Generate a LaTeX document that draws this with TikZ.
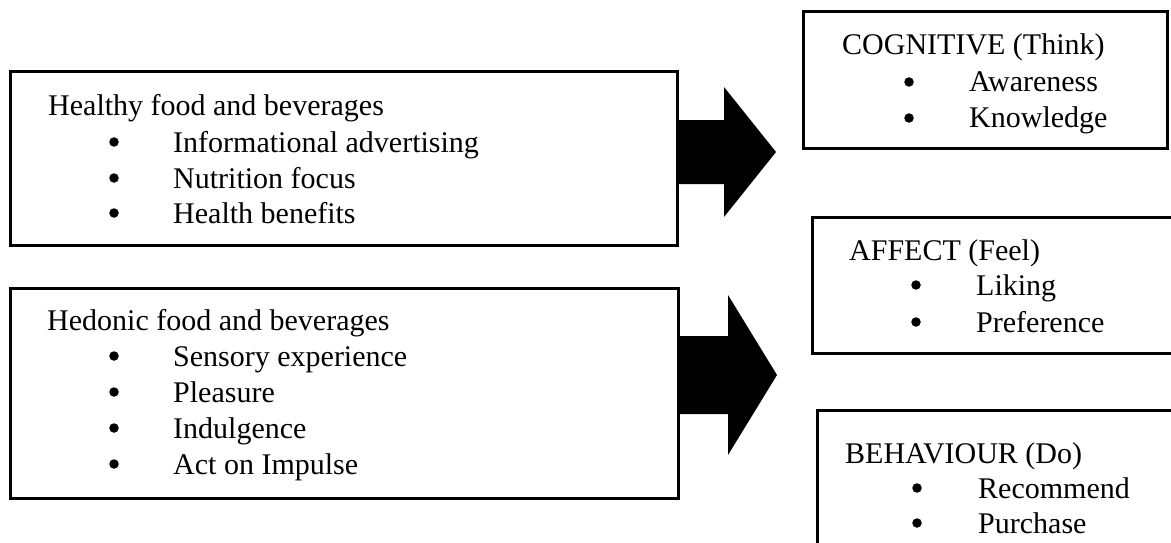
\documentclass[tikz,border=0pt]{standalone}
\usepackage{fontspec}
\setmainfont{Liberation Serif}
\begin{document}
\begin{tikzpicture}[x=1pt,y=-1pt]
\tikzset{
  box/.style={draw=black, line width=3pt, inner sep=0pt, outer sep=0pt},
  lbl/.style={anchor=base west, inner sep=0pt, font=\fontsize{30}{36}\selectfont},
  dot/.style={circle, fill=black, inner sep=0pt, minimum size=9.5pt, yshift=10pt},
  blockarrow/.style={fill=black, draw=none}
}
\useasboundingbox (0,0) rectangle (1171,543);
\clip (0,0) rectangle (1171,543);

% frames
\node[box, minimum width=667pt, minimum height=173pt] (healthy) at (343.5,158.5) {};
\node[box, minimum width=668pt, minimum height=210pt] (hedonic) at (344,393) {};
\node[box, minimum width=364pt, minimum height=136pt] (cognitive) at (985,80) {};
\node[box, minimum width=368pt, minimum height=136pt] (affect) at (996,285) {};
\node[box, minimum width=363pt, minimum height=150pt] (behaviour) at (998.5,485) {};

% block arrows
\fill[blockarrow] (healthy.east |- 0,120) -- (724,120) -- (724,87) -- (776,152)
  -- (724,217) -- (724,184) -- (healthy.east |- 0,184) -- cycle;
\fill[blockarrow] (hedonic.east |- 0,336) -- (728,336) -- (728,295) -- (777,375)
  -- (728,455) -- (728,414) -- (hedonic.east |- 0,414) -- cycle;

% healthy food
\node[lbl] (h0) at (48,115) {Healthy food and beverages};
\node[dot] (hb1) at (114,152) {};
\node[lbl] (h1) at (173,152) {Informational advertising};
\node[dot] (hb2) at (114,188) {};
\node[lbl] (h2) at (173,188) {Nutrition focus};
\node[dot] (hb3) at (114,223) {};
\node[lbl] (h3) at (173,223) {Health benefits};

% hedonic food
\node[lbl] (d0) at (47,330) {Hedonic food and beverages};
\node[dot] (db1) at (114,366) {};
\node[lbl] (d1) at (173,366) {Sensory experience};
\node[dot] (db2) at (114,402) {};
\node[lbl] (d2) at (173,402) {Pleasure};
\node[dot] (db3) at (114,438) {};
\node[lbl] (d3) at (173,438) {Indulgence};
\node[dot] (db4) at (114,474) {};
\node[lbl] (d4) at (173,474) {Act on Impulse};

% cognitive
\node[lbl] (c0) at (842,55) {COGNITIVE (Think)};
\node[dot] (cb1) at (909,92) {};
\node[lbl] (c1) at (969,92) {Awareness};
\node[dot] (cb2) at (909,128) {};
\node[lbl] (c2) at (969,128) {Knowledge};

% affect
\node[lbl] (a0) at (849,260) {AFFECT (Feel)};
\node[dot] (ab1) at (916,295) {};
\node[lbl] (a1) at (976,295) {Liking};
\node[dot] (ab2) at (916,332) {};
\node[lbl] (a2) at (976,332) {Preference};

% behaviour
\node[lbl] (b0) at (845,463) {BEHAVIOUR (Do)};
\node[dot] (bb1) at (917,498) {};
\node[lbl] (b1) at (978,498) {Recommend};
\node[dot] (bb2) at (917,533) {};
\node[lbl] (b2) at (978,533) {Purchase};
\end{tikzpicture}
\end{document}
